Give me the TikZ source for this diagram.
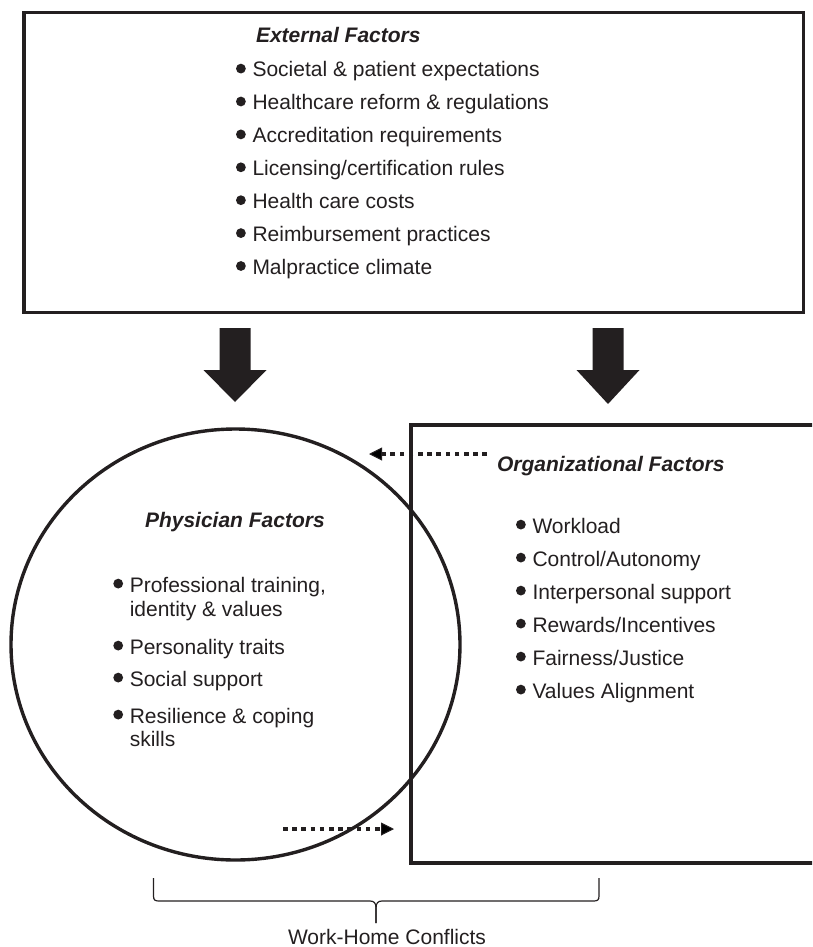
\documentclass[tikz,border=0pt]{standalone}
\usepackage{fontspec}
\setmainfont{Liberation Sans}
\usetikzlibrary{arrows.meta,shapes.geometric}
\definecolor{ink}{RGB}{35,31,32}
% round bullet placed in front of each list entry
\newcommand\itembul{\makebox[16.5pt][l]{\tikz[baseline=0pt]{\useasboundingbox (0pt,0pt) rectangle (9.8pt,0pt);\fill[ink] (4.9pt,8.4pt) circle[radius=4.9pt];}}}
\tikzset{
  txt/.style={font=\fontsize{21}{24}\selectfont, text=ink, inner sep=0pt, outer sep=0pt, anchor=base west},
  ttl/.style={txt, font=\fontsize{21}{24}\selectfont\bfseries\itshape},
  frame/.style={draw=ink, line width=3.6pt, inner sep=0pt, outer sep=0pt},
  bigarrow/.style={fill=ink},
  dotarrow/.style={draw=ink, line width=4.4pt, dash pattern=on 4.6pt off 4.6pt,
    -{Triangle[length=13pt,width=13pt,line width=1pt]}},
  bracket/.style={draw=ink, line width=1.2pt}
}
\begin{document}
\begin{tikzpicture}[x=1pt,y=-1pt]
\useasboundingbox (0,0) rectangle (812,947);
\clip (0,0) rectangle (812,947);

% external factors box
\node[frame, rectangle, minimum width=779.5pt, minimum height=300pt] (ext) at (413.75,162.5) {};
\node[ttl] (extT) at (256,43) {External Factors};
\foreach \t [count=\i from 0] in {Societal \& patient expectations,
    Healthcare reform \& regulations, Accreditation requirements,
    Licensing/certification rules, Health care costs,
    Reimbursement practices, Malpractice climate}
  \node[txt] (ext\i) at (236,77+32.9*\i) {\itembul\t};

% two block arrows pointing down
\foreach \cx/\tip in {235/402,608/404}
  \fill[bigarrow] (\cx-15.5,328) -- (\cx+15.5,328) -- (\cx+15.5,370) -- (\cx+31.5,370)
     -- (\cx,\tip) -- (\cx-31.5,370) -- (\cx-15.5,370) -- cycle;

% organizational factors box (open towards the right)
\node[frame, rectangle, anchor=north west, minimum width=440pt, minimum height=438pt] (org) at (411,425) {};
\node[ttl] (orgT) at (497,471) {Organizational Factors};
\foreach \t [count=\i from 0] in {Workload, Control/Autonomy, Interpersonal support,
    Rewards/Incentives, Fairness/Justice, Values Alignment}
  \node[txt] (org\i) at (516,533+33*\i) {\itembul\t};

% physician factors circle
\node[draw=ink, line width=3.4pt, ellipse, inner sep=0pt, outer sep=0pt,
      minimum width=449pt, minimum height=431pt] (phy) at (235.5,644.5) {};
\node[ttl] (phyT) at (145,527) {Physician Factors};
\node[txt] (phy1) at (113.3,592) {\itembul Professional training,};
\node[txt] (phy1b) at (129.8,616) {identity \& values};
\node[txt] (phy2) at (113.3,654) {\itembul Personality traits};
\node[txt] (phy3) at (113.3,686) {\itembul Social support};
\node[txt] (phy4) at (113.3,723) {\itembul Resilience \& coping};
\node[txt] (phy4b) at (129.8,746) {skills};

% dotted influence arrows between the two spheres
\coordinate (fbStart) at (487,454);
\coordinate (fbEnd) at (369,454);
\coordinate (ffStart) at (283,829);
\coordinate (ffEnd) at (394,829);
\draw[dotarrow] (fbStart) -- (fbEnd);
\draw[dotarrow] (ffStart) -- (ffEnd);

% bracket with its label
\coordinate (brL) at (153.5,878);
\coordinate (brR) at (599,878);
\coordinate (brTip) at (376,923);
\draw[bracket] (brL) -- (153.5,896) .. controls (153.5,900) and (155,901) .. (159,901)
  -- (370,901) .. controls (374,901) and (376,903) .. (376,908) -- (brTip);
\draw[bracket] (brTip) -- (376,908) .. controls (376,903) and (378,901) .. (382,901)
  -- (593.5,901) .. controls (597.5,901) and (599,900) .. (599,896) -- (brR);
\node[txt, anchor=base] (wh) at (387,944) {Work-Home Conflicts};
\end{tikzpicture}
\end{document}
